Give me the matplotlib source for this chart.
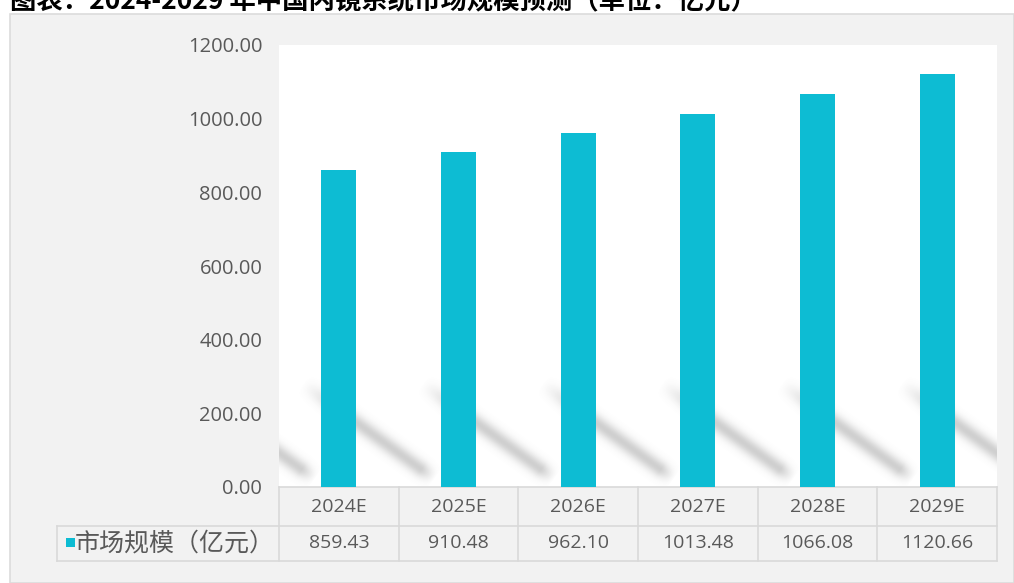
import matplotlib
matplotlib.use("Agg")
import matplotlib.pyplot as plt
import matplotlib.patches as mpatches
from matplotlib.lines import Line2D
import numpy as np

plt.rcParams['font.family'] = ['Noto Sans CJK SC', 'DejaVu Sans']

# data
years = ['2024E', '2025E', '2026E', '2027E', '2028E', '2029E']
market = [859.43, 910.48, 962.10, 1013.48, 1066.08, 1120.66]
series_name = '市场规模（亿元）'
title = '图表：2024-2029 年中国内镜系统市场规模预测（单位：亿元）'
yticks = [0, 200, 400, 600, 800, 1000, 1200]

bar_col = '#0dbcd3'
txt_col = '#595959'
grid_col = '#d9d9d9'
num_font = ['Open Sans', 'DejaVu Sans']

W, H = 1014, 583
fig = plt.figure(figsize=(W / 100, H / 100), dpi=100)
fig.patch.set_facecolor('white')

# gray panel behind the chart
panel = mpatches.Rectangle((10 / W, 0), 1 - 10 / W, 1 - 14 / H, transform=fig.transFigure,
                           facecolor='#f2f2f2', edgecolor='#dcdcdc', lw=1.2, zorder=-5)
fig.patches.append(panel)

fig.text(10 / W, 1 - 9 / H, title, fontsize=19, fontweight='bold', color='black',
         ha='left', va='baseline')

left, right, bot, top = 279, 997, 487, 45
ax = fig.add_axes([left / W, 1 - bot / H, (right - left) / W, (bot - top) / H])
ax.set_facecolor('white')
ax.set_zorder(1)

x = list(range(len(years)))
ymax = 1200

# soft diagonal shadow streak behind each bar, rendered as a blurred image
pw, phx = right - left, bot - top
gx, gy = np.meshgrid(np.arange(pw) + 0.5, np.arange(phx) + 0.5)
cat_px = pw / len(years)
shade = np.zeros_like(gx)
for i in [-1] + x:
    p0 = np.array([(i - 0.3 + 0.5) * cat_px, 280 / ymax * phx])
    p1 = np.array([(i + 0.8 + 0.5) * cat_px, 22 / ymax * phx])
    d = p1 - p0
    L2 = d @ d
    t = ((gx - p0[0]) * d[0] + (gy - p0[1]) * d[1]) / L2
    tc = np.clip(t, 0, 1)
    dist2 = (gx - p0[0] - tc * d[0]) ** 2 + (gy - p0[1] - tc * d[1]) ** 2
    env = np.clip(np.minimum(t / 0.3, (1 - t) / 0.1), 0, 1)
    shade = np.maximum(shade, np.exp(-dist2 / (2 * 5.5 ** 2)) * env)
rgba = np.zeros(shade.shape + (4,))
rgba[..., :3] = 0.45
rgba[..., 3] = 0.34 * shade
ax.imshow(rgba, extent=[-0.5, len(years) - 0.5, 0, ymax], origin='lower',
          aspect='auto', interpolation='bilinear', zorder=1)

ax.bar(x, market, width=0.29, color=bar_col, zorder=3)

ax.set_xlim(-0.5, len(years) - 0.5)
ax.set_ylim(0, ymax)
ax.set_yticks(yticks)
ax.set_yticklabels([f'{v:.2f}' for v in yticks], fontsize=14.5, color=txt_col,
                   family=num_font)
ax.tick_params(axis='y', length=0, pad=12)
ax.set_xticks([])
for s in ax.spines.values():
    s.set_visible(False)

# data table under the plot
r0 = 0
r1 = -(526 - bot) / phx
r2 = -(561 - bot) / phx
tr = ax.get_xaxis_transform()
lk = dict(color=grid_col, lw=1.2, transform=tr, clip_on=False)
xl = -0.5 - (left - 57) / cat_px
ax.add_line(Line2D([-0.5, len(years) - 0.5], [r0, r0], **lk))
ax.add_line(Line2D([xl, len(years) - 0.5], [r1, r1], **lk))
ax.add_line(Line2D([xl, len(years) - 0.5], [r2, r2], **lk))
ax.add_line(Line2D([xl, xl], [r1, r2], **lk))
for k in range(len(years) + 1):
    ax.add_line(Line2D([k - 0.5, k - 0.5], [r0, r2], **lk))

for i, (yr, v) in enumerate(zip(years, market)):
    ax.text(i, (r0 + r1) / 2, yr, transform=tr, ha='center', va='center',
            fontsize=14, color=txt_col, family=num_font)
    ax.text(i, (r1 + r2) / 2, f'{v:.2f}', transform=tr, ha='center', va='center',
            fontsize=14, color=txt_col, family=num_font)

fig.patches.append(mpatches.Rectangle((66 / W, 1 - 547 / H), 8.5 / W, 9 / H,
                                      transform=fig.transFigure, facecolor=bar_col,
                                      edgecolor='none', zorder=5))
fig.text(75 / W, 1 - 543.5 / H, series_name, fontsize=18, color=txt_col,
         ha='left', va='center')

fig.savefig('out.png', dpi=100)
